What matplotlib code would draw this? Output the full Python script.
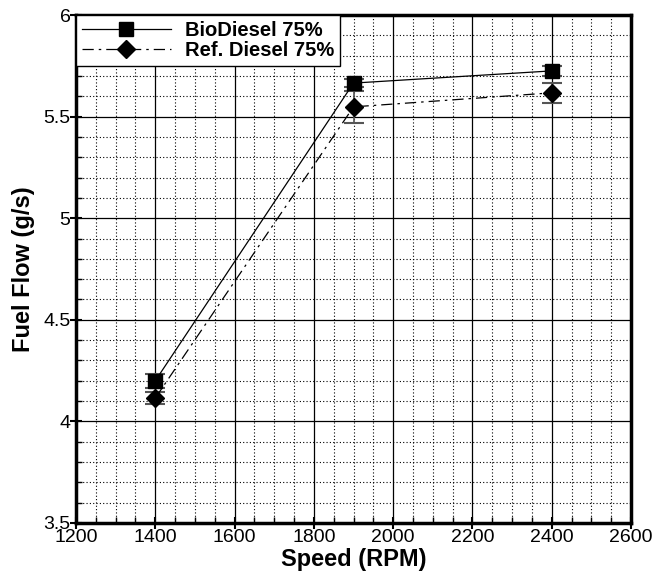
import matplotlib.pyplot as plt
from matplotlib.lines import Line2D
from matplotlib.ticker import MultipleLocator, FormatStrFormatter

plt.rcParams['font.family'] = ['Liberation Sans', 'DejaVu Sans']

speed = [1400, 1900, 2400]
bio_flow = [4.20, 5.665, 5.725]
bio_err = [0.035, 0.02, 0.025]
ref_flow = [4.115, 5.548, 5.617]
ref_err = [0.03, 0.08, 0.05]
labels = ['BioDiesel 75%', 'Ref. Diesel 75%']

fig = plt.figure(figsize=(6.52, 5.71), dpi=100)
ax = fig.add_axes([0.1166, 0.0841, 0.8512, 0.8896])

dashdot = (0, (9, 4, 2, 4))
ax.errorbar(speed, bio_flow, yerr=bio_err, color='black', lw=0.9, ls='-',
            marker='s', ms=10, capsize=7, ecolor='#555555', elinewidth=1.2,
            capthick=1.5, zorder=5)
ax.errorbar(speed, ref_flow, yerr=ref_err, color='black', lw=0.9, ls=dashdot,
            marker='D', ms=9, capsize=7, ecolor='#555555', elinewidth=1.2,
            capthick=1.5, zorder=5)

ax.set_xlim(1200, 2600)
ax.set_ylim(3.5, 6)
ax.xaxis.set_major_locator(MultipleLocator(200))
ax.xaxis.set_minor_locator(MultipleLocator(50))
ax.yaxis.set_major_locator(MultipleLocator(0.5))
ax.yaxis.set_minor_locator(MultipleLocator(0.1))
ax.yaxis.set_major_formatter(FormatStrFormatter('%g'))

ax.grid(which='major', color='black', lw=0.9, ls='-')
ax.grid(which='minor', color='black', lw=0.8, ls=(0, (1, 2)))
ax.set_axisbelow(True)

for s in ax.spines.values():
    s.set_linewidth(2.5)
ax.tick_params(which='major', direction='inout', length=8, width=1.5,
               labelsize=14, pad=0)
ax.tick_params(which='minor', direction='in', length=4, width=1)

ax.set_xlabel('Speed (RPM)', fontsize=17, fontweight='bold', labelpad=2)
ax.set_ylabel('Fuel Flow (g/s)', fontsize=17, fontweight='bold', labelpad=6)

# legend without the error bars
handles = [Line2D([], [], color='black', lw=0.9, ls='-', marker='s', ms=10),
           Line2D([], [], color='black', lw=0.9, ls=dashdot, marker='D', ms=9)]
leg = ax.legend(handles, labels, loc='upper left', bbox_to_anchor=(0, 1),
                fancybox=False, framealpha=1, edgecolor='black',
                borderaxespad=0, handlelength=4.4, handletextpad=0.7,
                prop={'weight': 'bold', 'size': 14.5},
                labelspacing=0.05, borderpad=0.3)
leg.get_frame().set_linewidth(1.0)
leg.set_zorder(10)

fig.savefig('out.png', dpi=100)
